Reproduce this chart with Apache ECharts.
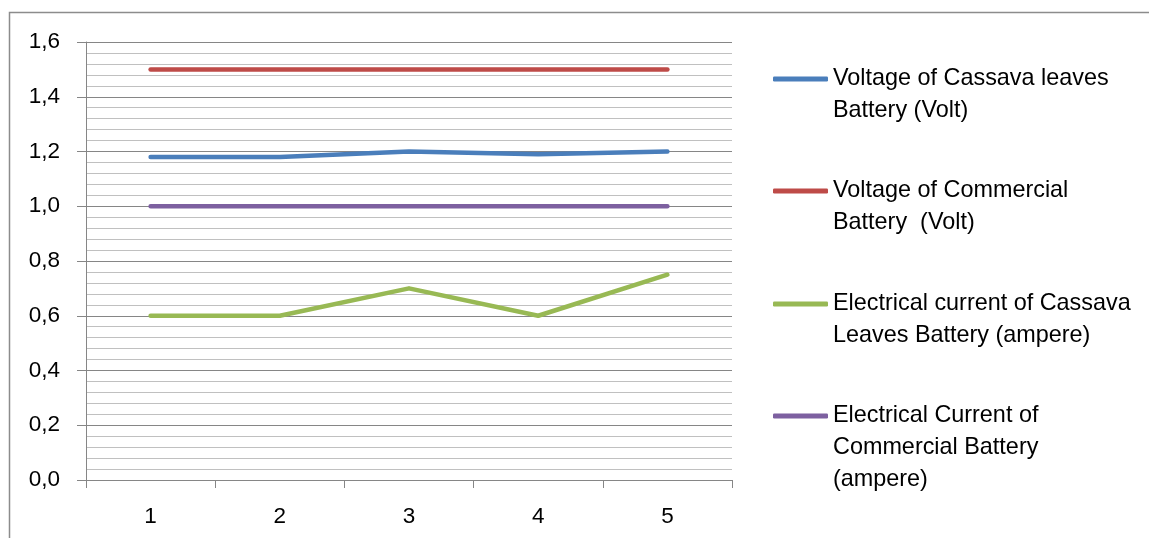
<!DOCTYPE html>
<html>
<head>
<meta charset="utf-8">
<script src="https://cdn.jsdelivr.net/npm/echarts@6/dist/echarts.min.js"></script>
<style>html,body{margin:0;padding:0;background:#fff;}#c{width:1149px;height:538px;}</style>
</head>
<body>
<div id="c"></div>
<script>
const categories = ['1', '2', '3', '4', '5'];
const seriesNames = [
  'Voltage of Cassava leaves\nBattery (Volt)',
  'Voltage of Commercial\nBattery  (Volt)',
  'Electrical current of Cassava\nLeaves Battery (ampere)',
  'Electrical Current of\nCommercial Battery\n(ampere)'
];
const voltageCassava = [1.18, 1.18, 1.20, 1.19, 1.20];
const voltageCommercial = [1.5, 1.5, 1.5, 1.5, 1.5];
const currentCassava = [0.6, 0.6, 0.7, 0.6, 0.75];
const currentCommercial = [1.0, 1.0, 1.0, 1.0, 1.0];
const colors = ['#4A7EBB', '#BE4B48', '#98B954', '#7D60A0'];
const yMin = 0, yMax = 1.6, yStep = 0.2;

const values = [voltageCassava, voltageCommercial, currentCassava, currentCommercial];
const font = '"Liberation Sans", Arial, sans-serif';
const legendTops = [31, 143, 256, 336];

const chart = echarts.init(document.getElementById('c'));
chart.setOption({
  animation: false,
  backgroundColor: '#fff',
  color: colors,
  graphic: [{
    type: 'rect', z: -10, silent: true,
    shape: { x: 9.5, y: 12.5, width: 1300, height: 700 },
    style: { fill: 'none', stroke: '#8c8c8c', lineWidth: 1.5 }
  }],
  grid: { left: 86, right: 417, top: 42, bottom: 58 },
  legend: seriesNames.map((n, i) => ({
    orient: 'vertical', left: 773, top: legendTops[i], padding: 0,
    itemWidth: 55, itemHeight: 5, icon: 'roundRect',
    data: [n],
    formatter: name => {
      const lines = name.split('\n');
      return '\n'.repeat(lines.length - 1) + name;
    },
    textStyle: { fontFamily: font, fontSize: 23.4, lineHeight: 32, color: '#000' }
  })),
  xAxis: {
    type: 'category', data: categories, boundaryGap: true,
    axisLine: { lineStyle: { color: '#868686', width: 1 } },
    axisTick: { show: true, length: 8, lineStyle: { color: '#868686' } },
    axisLabel: { margin: 25, fontFamily: font, fontSize: 22.5, color: '#000' },
    splitLine: { show: false }
  },
  yAxis: {
    type: 'value', min: yMin, max: yMax, interval: yStep,
    axisLine: { show: true, lineStyle: { color: '#868686', width: 1 } },
    axisTick: { show: true, length: 9, lineStyle: { color: '#868686' } },
    axisLabel: {
      margin: 26, fontFamily: font, fontSize: 22.5, color: '#000',
      padding: [5, 0, 0, 0],
      formatter: v => v.toFixed(1).replace('.', ',')
    },
    splitLine: { show: true, lineStyle: { color: '#868686', width: 1 } },
    minorTick: { show: false, splitNumber: 5 },
    minorSplitLine: { show: true, lineStyle: { color: '#c0c0c0', width: 1 } }
  },
  series: seriesNames.map((n, i) => ({
    name: n, type: 'line', data: values[i],
    symbol: 'none', smooth: false,
    lineStyle: { color: colors[i], width: 4.5, cap: 'round', join: 'round' },
    itemStyle: { color: colors[i] },
    z: 3
  }))
});
</script>
</body>
</html>
